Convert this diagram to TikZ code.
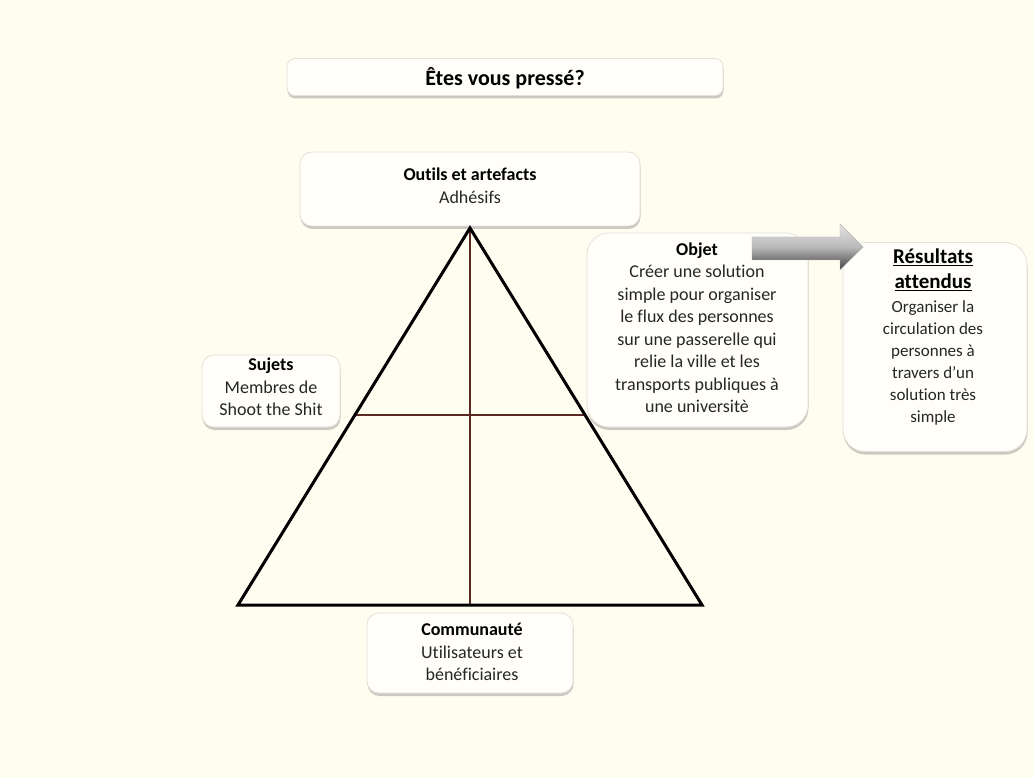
\documentclass[tikz,border=0pt]{standalone}
\usepackage{fontspec}
\setmainfont{Carlito}[Ligatures=NoCommon]
\usetikzlibrary{shadows,calc}
\definecolor{bgc}{HTML}{FFFCF0}
\definecolor{boxfill}{HTML}{FFFEF8}
\definecolor{boxline}{HTML}{E2E2DC}
\definecolor{txt}{HTML}{262626}
\definecolor{inner}{HTML}{5A2A22}
\newcommand{\reshead}[1]{{\fontsize{21}{25.5}\selectfont\bfseries\textcolor{black}{\underline{#1}}}}
\tikzset{
  card/.style={rectangle, rounded corners=12pt, fill=boxfill, draw=boxline, line width=0.8pt,
    drop shadow={shadow xshift=0.5pt, shadow yshift=-3pt, fill=black!45, opacity=0.45}},
  bigcard/.style={card, rounded corners=22pt},
  lbl/.style={align=center, text=txt, font=\fontsize{18}{22.5}\selectfont, inner sep=0pt},
}
\begin{document}
\begin{tikzpicture}[x=1pt,y=-1pt]
\fill[bgc] (0,0) rectangle (1034,778);
\useasboundingbox (0,0) rectangle (1034,778);

% boxes
\node[card, minimum width=436pt, minimum height=37pt, rounded corners=8pt] (titlebox) at (505,77) {};
\node[card, minimum width=340pt, minimum height=74pt] (toolbox) at (470,189) {};
\node[card, minimum width=138pt, minimum height=72pt] (subjbox) at (271,391) {};
\node[bigcard, minimum width=221pt, minimum height=194pt] (objbox) at (697.5,330) {};
\node[bigcard, minimum width=184pt, minimum height=209pt] (resbox) at (935,347) {};
\node[card, minimum width=206pt, minimum height=80pt] (combox) at (470,653) {};

% texts
\node[lbl, font=\fontsize{22}{26}\selectfont\bfseries, text=black] (title) at (505,78) {Êtes vous pressé?};
\node[lbl] (tools) at (470,186) {\textbf{\textcolor{black}{Outils et artefacts}}\\Adhésifs};
\node[lbl] (subj) at (271,387) {\textbf{\textcolor{black}{Sujets}}\\Membres de\\Shoot the Shit};
\node[lbl] (obj) at (697,328) {\textbf{\textcolor{black}{Objet}}\\Créer une solution\\simple pour organiser\\le flux des personnes\\sur une passerelle qui\\relie la ville et les\\transports publiques à\\une universitè};
\node[lbl, font=\fontsize{17}{22}\selectfont] (res) at (933,337) {\reshead{Résultats}\\[3pt]\reshead{attendus}\\[2pt]Organiser la\\circulation des\\personnes à\\travers d’un\\solution très\\simple};
\node[lbl] (com) at (472,652) {\textbf{\textcolor{black}{Communauté}}\\Utilisateurs et\\bénéficiaires};

% block arrow
\shade[top color=gray!20, bottom color=black!75, middle color=gray!55, draw=gray!60, line width=0.4pt]
  (752,237) -- (840,237) -- (840,224) -- (863,247) -- (840,270) -- (840,260) -- (752,260) -- cycle;

% triangle
\coordinate (A) at (470,228);
\coordinate (B) at (238,605);
\coordinate (C) at (702,605);
\coordinate (M) at ($(B)!0.5!(C)$);
\coordinate (L) at ($(A)!0.496!(B)$);
\coordinate (R) at ($(A)!0.496!(C)$);
\draw[inner, line width=1.5pt] (A) -- (M);
\draw[inner, line width=1.5pt] (L) -- (R);
\draw[black, line width=3pt, line join=miter] (A) -- (B) -- (C) -- cycle;
\end{tikzpicture}
\end{document}
